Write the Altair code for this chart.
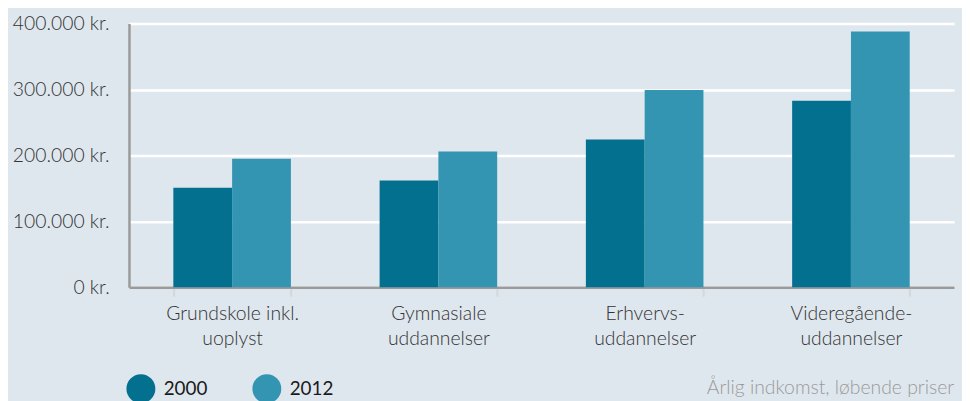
import altair as alt
import pandas as pd

categories = ["Grundskole inkl.|uoplyst", "Gymnasiale|uddannelser", "Erhvervs-|uddannelser", "Videregående-|uddannelser"]
years = ["2000", "2012"]
values_2000 = [151000, 162000, 224000, 283000]
values_2012 = [195000, 206000, 299000, 388000]
y_ticks = [0, 100000, 200000, 300000, 400000]
colors = ["#03708f", "#3395b1"]
note = "Årlig indkomst, løbende priser"

rows = []
for c, a, b in zip(categories, values_2000, values_2012):
    rows.append({"cat": c, "year": years[0], "value": a})
    rows.append({"cat": c, "year": years[1], "value": b})
df = pd.DataFrame(rows)

FONT = "Lato"

chart = alt.Chart(df).mark_bar().encode(
    x=alt.X("cat:N", sort=categories, title=None,
            scale=alt.Scale(paddingInner=0.43, paddingOuter=0.215),
            axis=alt.Axis(labelAngle=0, labelExpr="split(datum.label, '|')",
                          labelFontSize=19.5, labelColor="#333", labelFont=FONT,
                          labelFontWeight=300,
                          labelLineHeight=26, labelPadding=8,
                          tickBand="extent", ticks=True, tickColor="#d3d8dc",
                          tickSize=9, tickWidth=2, tickOffset=0,
                          domainColor="#9a9a9a", domainWidth=2.5, grid=False)),
    xOffset=alt.XOffset("year:N", sort=years),
    y=alt.Y("value:Q", title=None,
            scale=alt.Scale(domain=[0, 400000]),
            axis=alt.Axis(values=y_ticks,
                          labelExpr="replace(format(datum.value, ',d'), ',', '.') + ' kr.'",
                          labelFontSize=19.5, labelColor="#333", labelFont=FONT,
                          labelFontWeight=300,
                          labelPadding=20, ticks=False,
                          domainColor="#9a9a9a", domainWidth=2.5,
                          grid=True, gridColor="#ffffff", gridWidth=2.5)),
    color=alt.Color("year:N", sort=years,
                    scale=alt.Scale(domain=years, range=colors),
                    legend=alt.Legend(title=None, orient="none", legendX=-3, legendY=353,
                                      direction="horizontal", symbolType="circle",
                                      symbolSize=850, symbolStrokeWidth=0,
                                      symbolOpacity=1,
                                      labelFontSize=19, labelColor="#1a1a1a", labelFont=FONT,
                                      labelOffset=8, columnPadding=44, padding=0)),
).properties(
    width=832, height=266,
    title=alt.TitleParams(note, orient="bottom", anchor="end", frame="group",
                          fontSize=19.5, color="#9a9a9a", font=FONT, fontWeight=300,
                          offset=-24),
    autosize=alt.AutoSizeParams(type="none"),
    padding={"left": 122, "top": 14, "right": 8, "bottom": 113},
    background="#dfe7ee",
).configure_view(stroke=None, fill="#dfe7ee")

chart.save("out.html", embed_options={"renderer": "svg", "actions": False})
